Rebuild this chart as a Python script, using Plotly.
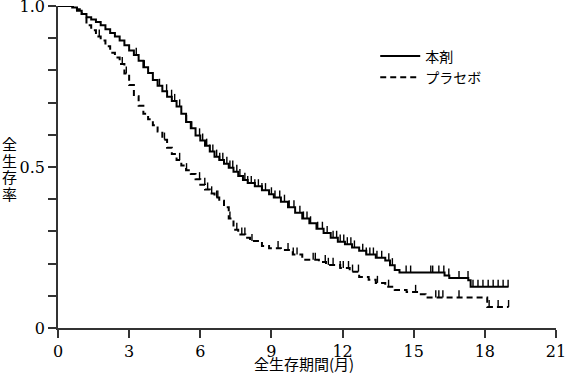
import plotly.graph_objects as go
import numpy as np

# ---- data ----
drug_t = [0, 0.5, 0.6, 0.8, 1.0, 1.2, 1.4, 1.6, 1.8, 2.0, 2.2, 2.4, 2.6, 2.8, 3.0, 3.2, 3.4, 3.6, 3.8,
          4.0, 4.2, 4.4, 4.6, 4.8, 5.0, 5.2, 5.4, 5.6, 5.8, 6.0, 6.2, 6.4, 6.6, 6.8, 7.0, 7.2, 7.4, 7.6,
          7.8, 8.0, 8.3, 8.6, 8.9, 9.1, 9.4, 9.7, 10.0, 10.3, 10.6, 10.9, 11.2, 11.5, 11.8, 12.1, 12.4,
          12.7, 13.0, 13.4, 13.8, 14.0, 14.2, 14.4, 16.3, 16.5, 17.3, 17.4, 19.0]
drug_s = [1.0, 1.0, 0.995, 0.985, 0.975, 0.965, 0.958, 0.95, 0.94, 0.928, 0.916, 0.905, 0.893, 0.878,
          0.862, 0.848, 0.83, 0.81, 0.792, 0.77, 0.752, 0.735, 0.718, 0.705, 0.688, 0.665, 0.64, 0.62,
          0.598, 0.582, 0.566, 0.548, 0.532, 0.522, 0.51, 0.498, 0.485, 0.472, 0.46, 0.45, 0.44, 0.428,
          0.415, 0.405, 0.392, 0.375, 0.358, 0.34, 0.325, 0.308, 0.295, 0.28, 0.268, 0.26, 0.25, 0.24,
          0.228, 0.218, 0.21, 0.195, 0.18, 0.172, 0.163, 0.155, 0.148, 0.128, 0.128]
drug_cens = [3.3, 3.64, 4.28, 4.58, 4.79, 4.92, 5.13, 5.42, 5.64, 5.97, 6.1, 6.27, 6.4, 6.53, 6.69,
             6.82, 6.95, 7.12, 7.25, 7.37, 7.54, 7.67, 7.88, 8.0, 8.15, 8.3, 8.45, 8.6, 8.75, 9.0,
             9.15, 9.35, 9.55, 9.75, 9.95, 10.2, 10.35, 10.5, 10.65, 10.95, 11.15, 11.35, 11.6, 11.75,
             11.9, 12.05, 12.2, 12.35, 12.5, 12.85, 13.0, 13.15, 13.3, 13.45, 13.65, 13.95, 14.1, 14.68,
             14.87, 15.72, 15.8, 16.06, 16.27, 16.48, 16.91, 17.29, 17.5, 17.71, 17.92, 18.14, 18.35,
             18.56, 18.77, 18.98]

plac_t = [0, 0.5, 0.8, 1.0, 1.2, 1.4, 1.6, 1.8, 2.0, 2.2, 2.4, 2.6, 2.8, 3.0, 3.2, 3.4, 3.6, 3.8, 4.0,
          4.2, 4.4, 4.6, 4.8, 5.0, 5.2, 5.4, 5.6, 5.8, 6.0, 6.2, 6.4, 6.6, 6.8, 7.0, 7.2, 7.4, 7.6, 7.9,
          8.1, 8.6, 8.9, 9.4, 9.9, 10.3, 11.0, 11.3, 11.9, 12.3, 12.7, 13.1, 13.4, 13.8, 14.2, 14.7,
          15.2, 15.5, 18.1, 19.0]
plac_s = [1.0, 1.0, 0.99, 0.975, 0.94, 0.925, 0.905, 0.893, 0.875, 0.855, 0.84, 0.82, 0.79, 0.755,
          0.72, 0.69, 0.665, 0.648, 0.63, 0.61, 0.585, 0.56, 0.54, 0.522, 0.505, 0.49, 0.478, 0.462,
          0.445, 0.43, 0.418, 0.405, 0.395, 0.375, 0.34, 0.305, 0.29, 0.28, 0.27, 0.255, 0.248, 0.242,
          0.228, 0.212, 0.205, 0.196, 0.186, 0.175, 0.158, 0.15, 0.14, 0.128, 0.118, 0.112, 0.105,
          0.095, 0.065, 0.065]
plac_cens = [1.74, 2.71, 2.88, 4.49, 5.13, 5.42, 5.97, 6.19, 6.31, 6.48, 6.69, 6.74, 7.25, 7.54,
             7.75, 7.88, 8.18, 9.28, 9.7, 9.92, 10.08, 10.76, 10.85, 11.27, 11.4, 11.6, 11.9, 12.03,
             12.25, 12.42, 12.67, 13.47, 13.94, 15.08, 15.93, 16.06, 16.23, 16.91, 18.18, 18.56, 19.0]

x_ticks = [0, 3, 6, 9, 12, 15, 18, 21]
y_ticks = [0, 0.1, 0.2, 0.3, 0.4, 0.5, 0.6, 0.7, 0.8, 0.9, 1.0]
y_labels = ["0", "", "", "", "", "0.5", "", "", "", "", "1.0"]
names = ["本剤", "プラセボ"]
y_title_chars = ["全", "生", "存", "率"]
x_title = "全生存期間(月)"


def surv_at(ts, ss, t):
    idx = np.searchsorted(np.array(ts), t, side="right") - 1
    return ss[max(idx, 0)]


fig = go.Figure()
for t, s, cens, nm, dash in [(drug_t, drug_s, drug_cens, names[0], "solid"),
                             (plac_t, plac_s, plac_cens, names[1], "6px,4px")]:
    fig.add_trace(go.Scatter(x=t, y=s, mode="lines", line_shape="hv", name=nm,
                             line=dict(color="black", width=2, dash=dash), cliponaxis=False))
    cy = [surv_at(t, s, c) for c in cens]
    fig.add_trace(go.Scatter(x=cens, y=cy, mode="markers", showlegend=False,
                             marker=dict(size=1, color="rgba(0,0,0,0)"),
                             error_y=dict(type="data", symmetric=False, array=[0.022] * len(cens),
                                          arrayminus=[0] * len(cens), width=0, thickness=1.4,
                                          color="black"),
                             hoverinfo="skip"))

num_font = dict(family="DejaVu Serif", size=16, color="black")
cjk = "Noto Sans CJK JP"

# vertical y title, one character per line (pixel pitch ~16.7)
annots = []
plot_h = 378 - 6 - 50
for i, ch in enumerate(y_title_chars):
    py = 143.5 + i * 16.7
    annots.append(dict(text=ch, xref="paper", yref="paper", x=-0.098, y=(328 - py) / plot_h,
                       showarrow=False, font=dict(family=cjk, size=15, color="black"),
                       xanchor="center", yanchor="middle"))
annots.append(dict(text=x_title, xref="paper", yref="paper", x=0.494, y=(328 - 363) / plot_h,
                   showarrow=False, font=dict(family=cjk, size=15, color="black"),
                   xanchor="center", yanchor="middle"))

fig.update_layout(
    width=565, height=378,
    margin=dict(l=58, r=9, t=6, b=50, autoexpand=False),
    plot_bgcolor="white", paper_bgcolor="white",
    showlegend=True,
    legend=dict(x=0.637, y=0.893, xanchor="left", yanchor="top", bgcolor="rgba(0,0,0,0)",
                font=dict(family=cjk, size=14, color="black"),
                itemwidth=40, tracegroupgap=0),
    xaxis=dict(range=[0, 21], tickvals=x_ticks, ticks="outside", ticklen=8, tickwidth=1.5,
               tickcolor="#333", showline=True, linecolor="#333", linewidth=1.5, showgrid=False,
               zeroline=False, tickfont=num_font, automargin=False, ticklabeloverflow="allow"),
    yaxis=dict(range=[0, 1.0], tickvals=y_ticks, ticktext=y_labels, ticks="outside", ticklen=8,
               tickwidth=1.5, tickcolor="#333", showline=True, linecolor="#333", linewidth=1.5,
               showgrid=False, zeroline=False, tickfont=num_font, automargin=False,
               ticklabeloverflow="allow"),
    annotations=annots,
)

fig.write_html("out.html", config={"displayModeBar": False},
               post_script="document.body.style.margin='0';")
